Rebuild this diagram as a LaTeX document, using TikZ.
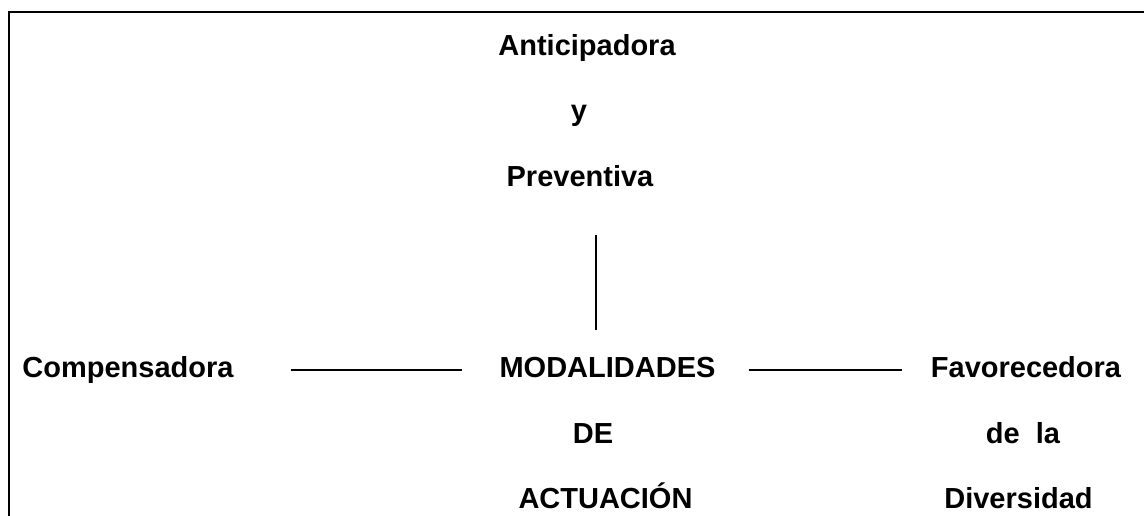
\documentclass[tikz,border=0pt]{standalone}
\usepackage{fontspec}
\setmainfont{Liberation Sans}
\usepackage{tikz}

\tikzset{
  lbl/.style={font=\bfseries\fontsize{29}{35}\selectfont, inner sep=0pt, anchor=base, text height=21pt, text depth=6pt},
  link/.style={line width=2pt},
  vlink/.style={line width=1.3pt}
}

\begin{document}
\begin{tikzpicture}[x=1pt, y=-1pt]
      \useasboundingbox (0,0) rectangle (1144,516);
      \draw[line width=2pt] (9,516) -- (9,12) -- (1144,12);
      \node[lbl] (antic) at (587,56) {Anticipadora};
      \node[lbl] (yy) at (579,121) {y};
      \node[lbl] (prev) at (580,187) {Preventiva};
      \node[lbl] (mod) at (607.5,377) {MODALIDADES};
      \node[lbl] (de) at (593,443) {DE};
      \node[lbl] (act) at (605.5,508) {ACTUACIÓN};
      \node[lbl] (comp) at (128,377) {Compensadora};
      \node[lbl] (fav) at (1026,377) {Favorecedora};
      \node[lbl] (dela) at (1023,443) {de\ \ la};
      \node[lbl] (div) at (1018.5,508) {Diversidad};
      \coordinate (vx) at (596,0);
      \draw[vlink, shorten <=42pt, shorten >=26pt] (prev.south -| vx) -- (mod.north -| vx);
      \draw[link, shorten <=57pt, shorten >=37pt] (comp.east) -- (mod.west);
      \draw[link, shorten <=33pt, shorten >=29pt] (mod.east) -- (fav.west);
    \end{tikzpicture}
\end{document}
